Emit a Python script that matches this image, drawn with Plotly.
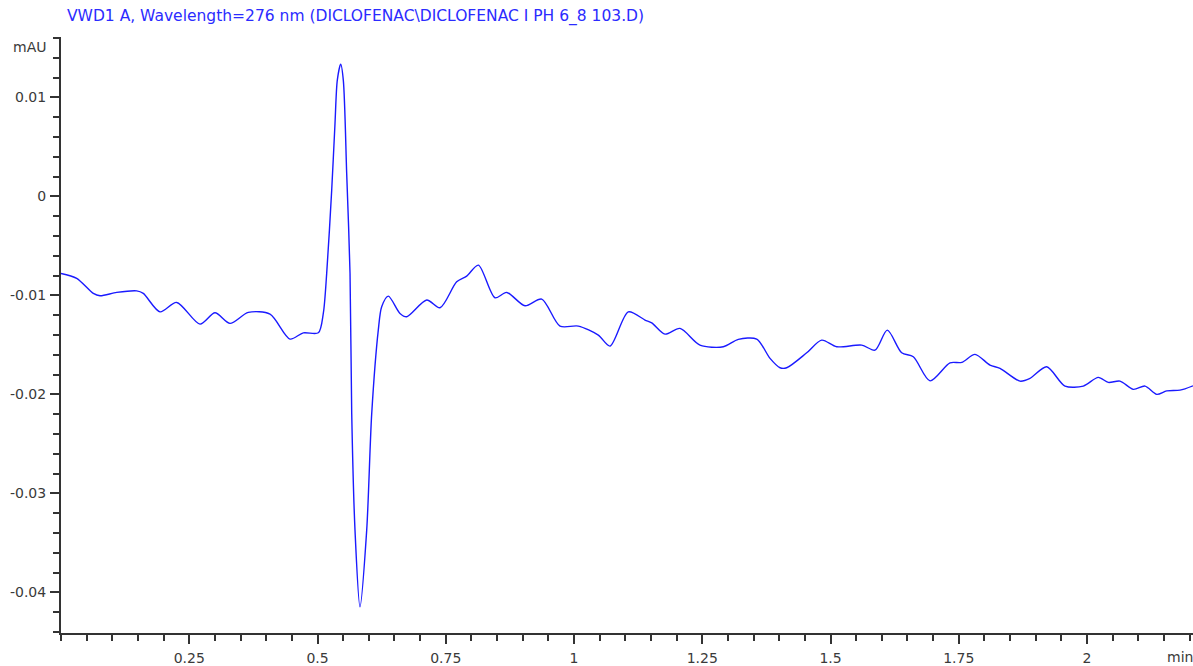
import plotly.graph_objects as go

# Retention time (min) and detector signal (mAU) of the chromatogram trace
time_min = [
    0.0, 0.0306, 0.0630, 0.0760, 0.1086, 0.1476, 0.1604, 0.1930, 0.2255, 0.2710,
    0.3002, 0.3294, 0.3651, 0.4074, 0.4464, 0.4723, 0.5016, 0.5113, 0.5179, 0.5277,
    0.5341, 0.5386, 0.5452, 0.5503, 0.5569, 0.5634, 0.5667, 0.5731, 0.5828, 0.5959,
    0.6057, 0.6185, 0.6251, 0.6380, 0.6608, 0.6739, 0.7129, 0.7388, 0.7713, 0.7908,
    0.8135, 0.8460, 0.8688, 0.9045, 0.9370, 0.9727, 1.0084, 1.0474, 1.0702, 1.1059,
    1.1384, 1.1515, 1.1774, 1.2066, 1.2456, 1.2910, 1.3203, 1.3561, 1.3821, 1.4016,
    1.4146, 1.4536, 1.4828, 1.5121, 1.5608, 1.5867, 1.6107, 1.6388, 1.6614, 1.6940,
    1.7329, 1.7558, 1.7817, 1.8109, 1.8304, 1.8694, 1.8889, 1.9214, 1.9571, 1.9928,
    2.0220, 2.0415, 2.0643, 2.0903, 2.1131, 2.1359, 2.1553, 2.1813, 2.2066,
]
signal_mau = [
    -0.00778, -0.00828, -0.00980, -0.01004, -0.00970, -0.00954, -0.00980, -0.01166, -0.01071, -0.01290,
    -0.01176, -0.01283, -0.01172, -0.01189, -0.01441, -0.01378, -0.01378, -0.01182, -0.00778, 0.00064,
    0.00737, 0.01175, 0.01336, 0.01175, 0.00232, -0.00778, -0.02192, -0.03371, -0.04145, -0.03371,
    -0.02192, -0.01351, -0.01115, -0.01007, -0.01182, -0.01216, -0.01047, -0.01125, -0.00863, -0.00805,
    -0.00694, -0.01024, -0.00970, -0.01105, -0.01037, -0.01310, -0.01310, -0.01401, -0.01512, -0.01166,
    -0.01249, -0.01277, -0.01391, -0.01333, -0.01502, -0.01519, -0.01444, -0.01441, -0.01636, -0.01731,
    -0.01731, -0.01580, -0.01452, -0.01519, -0.01502, -0.01553, -0.01351, -0.01580, -0.01620, -0.01863,
    -0.01681, -0.01677, -0.01596, -0.01704, -0.01737, -0.01866, -0.01838, -0.01721, -0.01916, -0.01916,
    -0.01828, -0.01879, -0.01866, -0.01949, -0.01916, -0.02000, -0.01964, -0.01957, -0.01913,
]

x_tick_vals = [0.25, 0.5, 0.75, 1.0, 1.25, 1.5, 1.75, 2.0]
x_tick_text = ["0.25", "0.5", "0.75", "1", "1.25", "1.5", "1.75", "2"]
y_tick_vals = [0.01, 0.0, -0.01, -0.02, -0.03, -0.04]
y_tick_text = ["0.01", "0", "-0.01", "-0.02", "-0.03", "-0.04"]

title_text = "VWD1 A, Wavelength=276 nm (DICLOFENAC\\DICLOFENAC I PH 6_8 103.D)"

W, H = 1193, 666
ML, MR, MT, MB = 61, 0, 37, 33
axis_color = "#333333"
font_family = "DejaVu Sans, Verdana, sans-serif"
label_font = dict(family=font_family, size=14, color="#3a3a3a")

fig = go.Figure()
fig.add_trace(go.Scatter(
    x=time_min, y=signal_mau, mode="lines",
    line=dict(color="#1a1aff", width=1.4, shape="spline", smoothing=0.8),
    hoverinfo="skip", showlegend=False,
))

fig.update_layout(
    width=W, height=H,
    margin=dict(l=ML, r=MR, t=MT, b=MB, pad=0),
    paper_bgcolor="white", plot_bgcolor="white",
    font=label_font,
    xaxis=dict(
        range=[0, 2.2066], showgrid=False, zeroline=False,
        showline=True, linecolor=axis_color, linewidth=2,
        tickmode="array", tickvals=x_tick_vals, ticktext=x_tick_text,
        ticks="outside", ticklen=9, tickwidth=2, tickcolor=axis_color,
        minor=dict(tick0=0, dtick=0.05, ticks="outside", ticklen=6,
                   tickwidth=2, tickcolor=axis_color, showgrid=False),
        tickfont=label_font, ticklabelstandoff=2,
    ),
    yaxis=dict(
        range=[-0.0441, 0.0161], showgrid=False, zeroline=False,
        showline=True, linecolor=axis_color, linewidth=2,
        tickmode="array", tickvals=y_tick_vals, ticktext=y_tick_text,
        ticks="outside", ticklen=9, tickwidth=2, tickcolor=axis_color,
        minor=dict(tick0=0, dtick=0.002, ticks="outside", ticklen=6,
                   tickwidth=2, tickcolor=axis_color, showgrid=False),
        tickfont=label_font, ticklabelstandoff=1,
    ),
    annotations=[
        dict(text=title_text, xref="paper", yref="paper", x=(65 - ML) / (W - ML - MR), y=1,
             xanchor="left", yanchor="bottom", yshift=9, showarrow=False,
             font=dict(family=font_family, size=15.5, color="#2b2bff")),
        dict(text="mAU", xref="paper", yref="paper", x=0, y=1,
             xanchor="right", yanchor="middle", xshift=-13, yshift=-10, showarrow=False,
             font=dict(family=font_family, size=14, color="#3a3a3a")),
        dict(text="min", xref="paper", yref="paper", x=(1165 - ML) / (W - ML - MR), y=0,
             xanchor="left", yanchor="middle", yshift=-24, showarrow=False,
             font=label_font),
    ],
)

fig.write_html("out.html")
